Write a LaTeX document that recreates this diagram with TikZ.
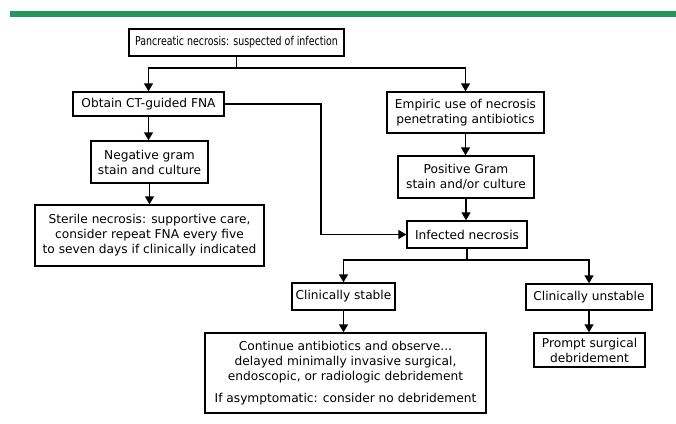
\documentclass[tikz,border=0pt]{standalone}
\usepackage{fontspec}
\usepackage{graphicx}
\setmainfont{DejaVu Sans}
\usetikzlibrary{arrows.meta}
\definecolor{bargreen}{RGB}{36,152,92}
\tikzset{
  box/.style={draw=black, line width=1.35pt, fill=white, align=center, inner sep=0pt,
    font=\fontsize{12.2}{15}\selectfont},
  conn/.style={line width=1.35pt},
  arr/.style={conn, -{Triangle[length=8pt,width=9pt]}}
}
\begin{document}
\begin{tikzpicture}[x=1pt,y=-1pt]
\useasboundingbox (0,0) rectangle (676,423);
\fill[bargreen] (10,10.5) rectangle (676,16.5);

\node[box, minimum width=215, minimum height=27] (top) at (236.5,42.5) {\scalebox{0.775}[1]{Pancreatic necrosis: suspected of infection}};
\node[box, minimum width=151, minimum height=24] (obtain) at (148.5,104) {Obtain CT-guided FNA};
\node[box, minimum width=117, minimum height=42] (neg) at (149.5,162) {Negative gram\\stain and culture};
\node[box, minimum width=229, minimum height=61] (sterile) at (149.5,235.5) {Sterile necrosis: supportive care,\\consider repeat FNA every five\\to seven days if clinically indicated};
\node[box, minimum width=157, minimum height=41] (empiric) at (465.5,112.5) {Empiric use of necrosis\\penetrating antibiotics};
\node[box, minimum width=136, minimum height=42] (positive) at (466,177) {Positive Gram\\stain and/or culture};
\node[box, minimum width=120, minimum height=27] (infected) at (467,234.5) {Infected necrosis};
\node[box, minimum width=103, minimum height=27] (stable) at (343.5,296.5) {Clinically stable};
\node[box, minimum width=281, minimum height=80] (continue) at (345.5,373) {Continue antibiotics and observe...\\delayed minimally invasive surgical,\\endoscopic, or radiologic debridement\\[6.5pt]If asymptomatic: consider no debridement};
\node[box, minimum width=126, minimum height=26] (unstable) at (589,297) {Clinically unstable};
\node[box, minimum width=111, minimum height=34] (prompt) at (589.5,350) {Prompt surgical\\debridement};

\coordinate (j1) at (236.5,68);
\coordinate (k) at (321,0);
\coordinate (j2) at (467,260);

\draw[conn] (top.south) -- (j1);
\draw[arr] (j1) -| (obtain.north);
\draw[arr] (j1) -| (empiric.north);
\draw[arr] (obtain.south) -- (obtain.south |- neg.north);
\draw[arr] (neg.south) -- (neg.south |- sterile.north);
\draw[arr] (obtain.east) -- (obtain.east -| k) -- (k |- infected.west) -- (infected.west);
\draw[arr] (empiric.south) -- (empiric.south |- positive.north);
\draw[arr] (positive.south) -- (positive.south |- infected.north);
\draw[conn] (infected.south) -- (j2);
\draw[arr] (j2) -| (stable.north);
\draw[arr] (j2) -| (unstable.north);
\draw[arr] (stable.south) -- (stable.south |- continue.north);
\draw[arr] (unstable.south) -- (unstable.south |- prompt.north);
\end{tikzpicture}
\end{document}
